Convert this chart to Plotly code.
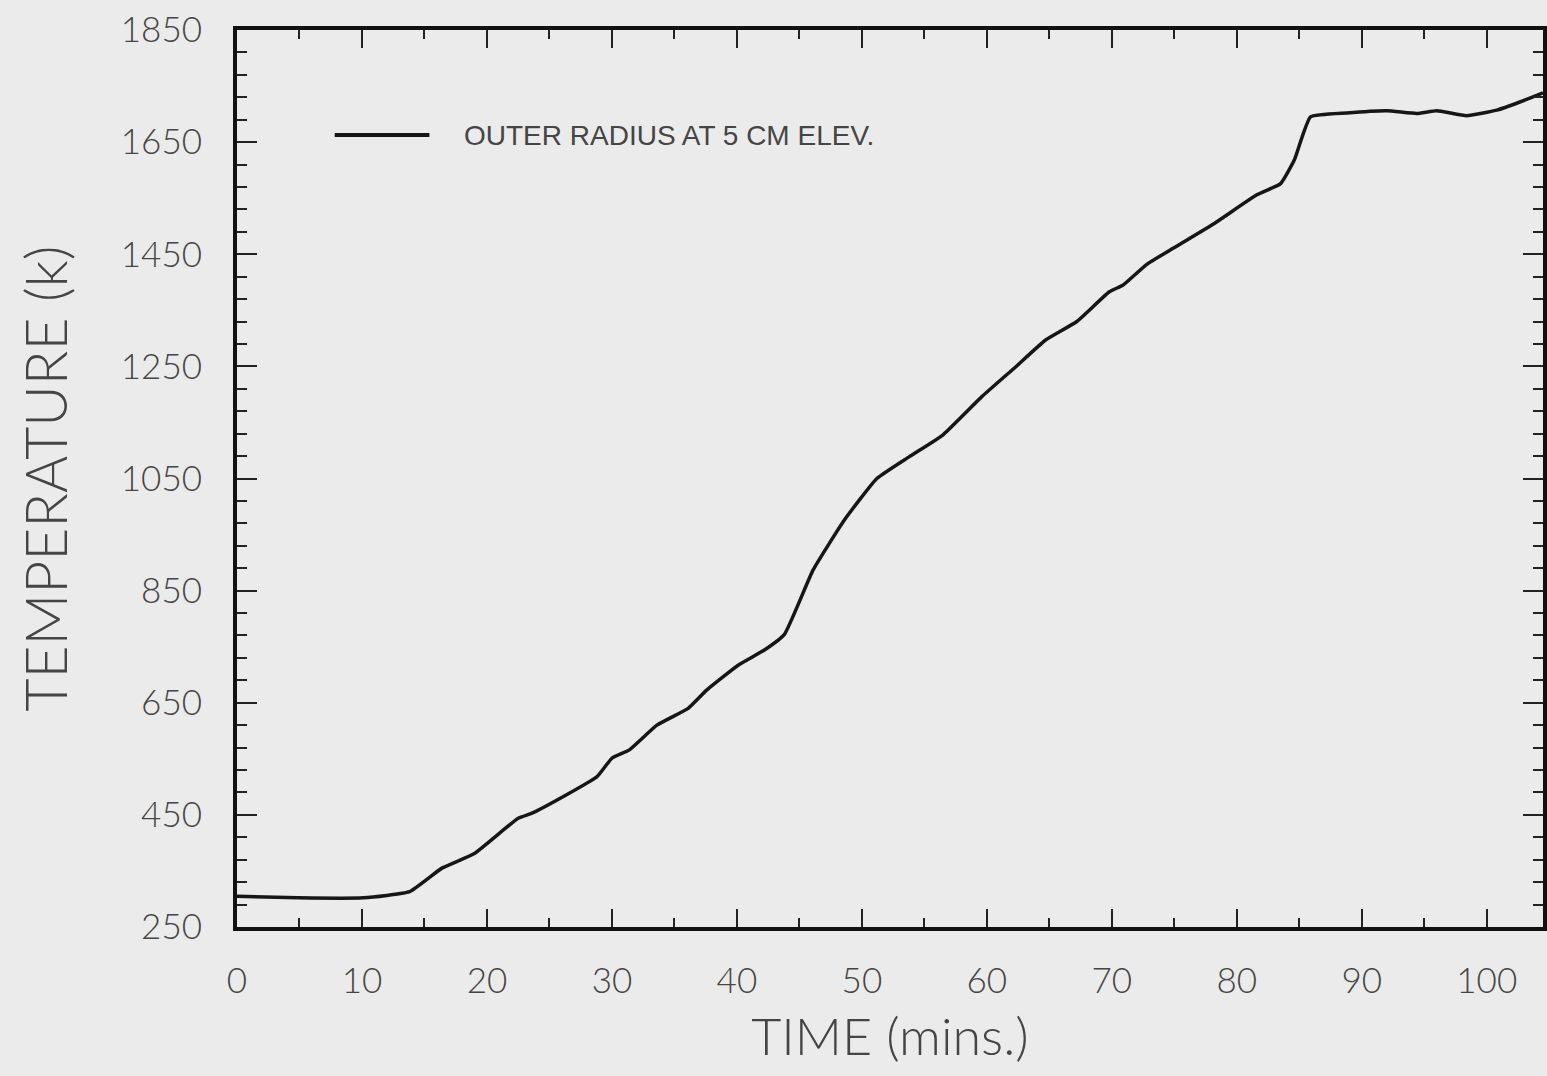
import plotly.graph_objects as go

time_min = [0, 4.9, 10.1, 13.8, 16.4, 19.0, 22.5, 23.6, 26.3, 28.8, 30.0, 31.4, 33.6, 36.1,
            37.6, 40.1, 42.2, 43.8, 46.1, 48.6, 51.2, 53.8, 56.5, 59.6, 62.3, 64.7, 67.2,
            69.8, 70.9, 72.8, 75.0, 78.2, 81.6, 83.5, 84.6, 85.9, 88.8, 92.0, 94.4, 96.0,
            98.4, 100.8, 102.7, 104.5]
temp_k = [305, 302, 302, 313, 355, 381, 444, 453, 485, 518, 551, 566, 610, 640,
          673, 717, 744, 772, 887, 976, 1050, 1089, 1128, 1196, 1249, 1297, 1330,
          1383, 1395, 1432, 1462, 1505, 1556, 1576, 1618, 1695, 1702, 1706, 1701, 1706,
          1697, 1707, 1722, 1738]

x_ticks = [0, 10, 20, 30, 40, 50, 60, 70, 80, 90, 100]
y_ticks = [250, 450, 650, 850, 1050, 1250, 1450, 1650, 1850]
series_name = "OUTER RADIUS AT 5 CM ELEV."

BG = "#ebebeb"
TXT = "#454545"
FONT = "Lato, Liberation Sans, sans-serif"

fig = go.Figure()
fig.add_trace(go.Scatter(x=time_min, y=temp_k, mode="lines", name=series_name,
                         line=dict(color="#161616", width=3.5, shape="spline", smoothing=0.4),
                         showlegend=False))

# legend sample (drawn manually to match the long line swatch)
fig.add_shape(type="line", xref="paper", yref="paper",
              x0=(335 - 237) / 1310, x1=(430 - 237) / 1310,
              y0=(927 - 135) / 897, y1=(927 - 135) / 897,
              line=dict(color="#161616", width=4))
fig.add_annotation(text=series_name, xref="paper", yref="paper",
                   x=(463 - 237) / 1310, y=(927 - 135) / 897, xanchor="left", yanchor="middle",
                   showarrow=False, font=dict(family="Liberation Sans Narrow, Liberation Sans, sans-serif",
                                              size=28, color=TXT))

axis_common = dict(showgrid=False, zeroline=False, showline=True, linecolor="#111111",
                   linewidth=4, mirror="allticks", ticks="inside", tickcolor="#222222",
                   tickwidth=2)

fig.update_xaxes(range=[0, 104.5], tickvals=x_ticks, ticklen=18, ticklabelstandoff=20,
                 tickfont=dict(family=FONT, size=35, color=TXT, weight=300),
                 minor=dict(dtick=5, tick0=0, ticks="inside", ticklen=9, tickwidth=2,
                            tickcolor="#222222"),
                 title=dict(text="TIME (mins.)", font=dict(family=FONT, size=52, color=TXT, weight=300),
                            standoff=21),
                 **axis_common)
fig.update_yaxes(range=[250, 1850], tickvals=y_ticks, ticklen=20, ticklabelstandoff=24,
                 tickfont=dict(family=FONT, size=35, color=TXT, weight=300),
                 minor=dict(dtick=40, tick0=250, ticks="inside", ticklen=10, tickwidth=2,
                            tickcolor="#222222"),
                 title=dict(text="TEMPERATURE (k)", font=dict(family=FONT, size=57, color=TXT, weight=300),
                            standoff=36),
                 **axis_common)

fig.update_layout(width=1547, height=1076, margin=dict(l=237, r=0, t=30, b=149),
                  paper_bgcolor=BG, plot_bgcolor=BG)

fig.write_html("out.html")
